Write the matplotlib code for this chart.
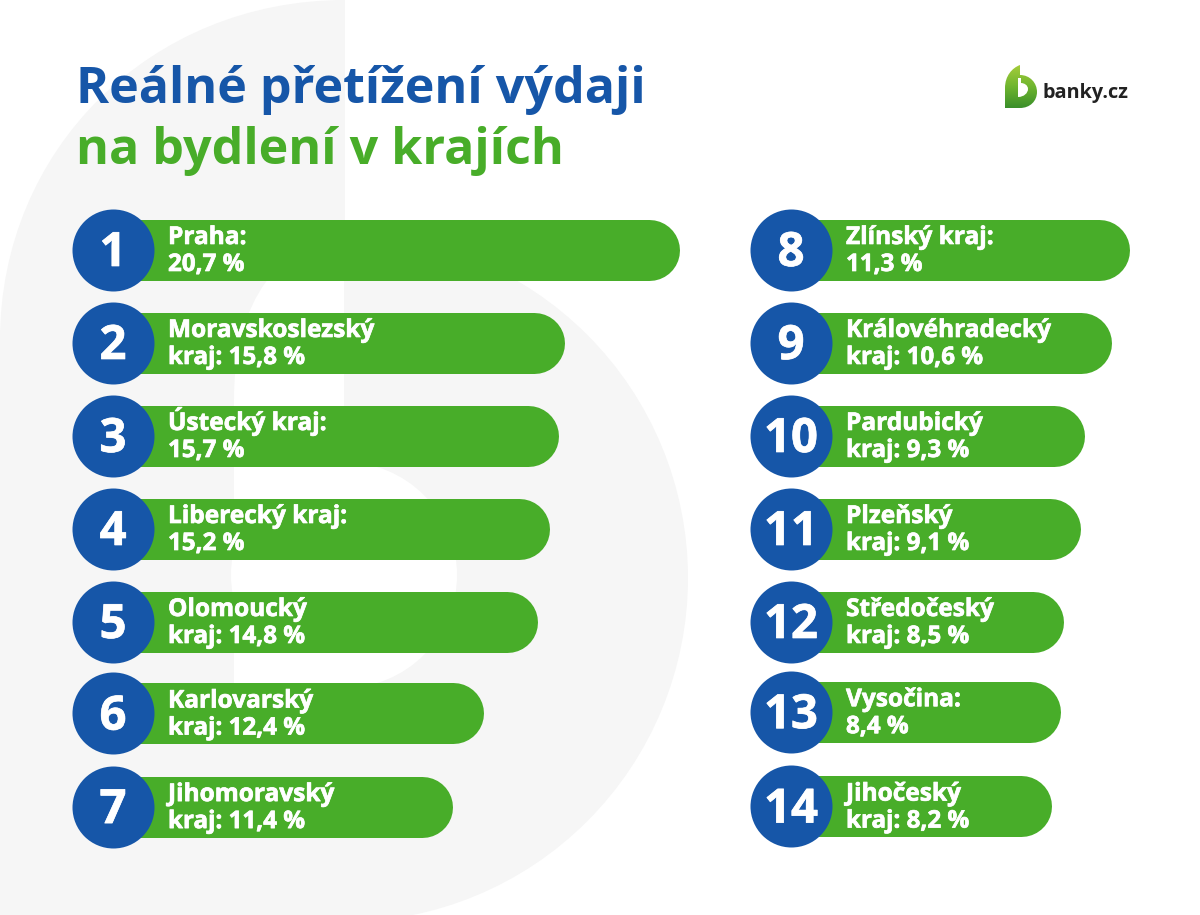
import numpy as np
import matplotlib
matplotlib.use('Agg')
import matplotlib.pyplot as plt
import matplotlib.patheffects as pe
from matplotlib.path import Path
from matplotlib.patches import PathPatch, Circle, Rectangle
from matplotlib.colors import LinearSegmentedColormap

# Data: labels are what the picture prints, bar lengths are read off the bars
# (the source graphic does not draw them strictly in proportion)
title_top = 'Reálné přetížení výdaji'
title_bottom = 'na bydlení v krajích'

left_ranks = [1, 2, 3, 4, 5, 6, 7]
left_names = ['Praha:', 'Moravskoslezský', 'Ústecký kraj:', 'Liberecký kraj:',
              'Olomoucký', 'Karlovarský', 'Jihomoravský']
left_prefix = ['', 'kraj: ', '', '', 'kraj: ', 'kraj: ', 'kraj: ']
left_values = [20.7, 15.8, 15.7, 15.2, 14.8, 12.4, 11.4]
left_bars = [20.71, 16.07, 15.79, 15.43, 14.97, 12.79, 11.52]

right_ranks = [8, 9, 10, 11, 12, 13, 14]
right_names = ['Zlínský kraj:', 'Královéhradecký', 'Pardubický', 'Plzeňský',
               'Středočeský', 'Vysočina:', 'Jihočeský']
right_prefix = ['', 'kraj: ', 'kraj: ', 'kraj: ', 'kraj: ', '', 'kraj: ']
right_values = [11.3, 10.6, 9.3, 9.1, 8.5, 8.4, 8.2]
right_bars = [11.31, 10.56, 9.52, 9.36, 8.65, 8.53, 8.20]

# Layout, pixels of the 1200x915 picture
W, H = 1200, 915
GREEN = '#48AD29'
BLUE = '#1656A8'
GRAY = '#F6F6F6'
BAR_H = 61
CIRCLE_D = 82

plt.rcParams['font.family'] = ['Open Sans', 'DejaVu Sans']
fig = plt.figure(figsize=(W / 100, H / 100), dpi=100, facecolor='white')


def full_axes(xlim, ylim):
    ax = fig.add_axes([0, 0, 1, 1], facecolor='none')
    ax.set_xlim(*xlim)
    ax.set_ylim(*ylim)
    ax.axis('off')
    return ax


# Background: big pale "b" and the logo, in picture pixels
bg = full_axes((0, W), (H, 0))
M, C, L, Z = Path.MOVETO, Path.CURVE4, Path.LINETO, Path.CLOSEPOLY
stem = Path([(0, H), (0, 340), (0, 150), (150, 0), (345, 0), (345, H), (0, H), (0, H)],
            [M, L, C, C, C, L, L, Z])
bg.add_patch(PathPatch(stem, fc=GRAY, ec='none'))
bg.add_patch(Circle((344, 578), 344, fc=GRAY, ec='none'))
slot = Path([(234, 578), (234, 400), (234, 320), (262, 255), (344, 225), (344, 578), (234, 578), (234, 578)],
            [M, L, C, C, C, L, L, Z])
bg.add_patch(PathPatch(slot, fc='white', ec='none'))
bg.add_patch(Circle((344, 575), 113, fc='white', ec='none'))
bg.add_patch(Rectangle((234, 575), 110, 113, fc='white', ec='none'))

# Logo with vertical gradient
logo_path = Path([(1005, 108), (1005, 88), (1005, 76), (1012, 68), (1020, 65), (1020, 75),
                  (1030, 75), (1037, 83), (1037, 92), (1037, 101), (1030, 108), (1020, 108),
                  (1005, 108), (1005, 108)],
                 [M, L, C, C, C, L, C, C, C, C, C, C, L, Z])
logo_patch = PathPatch(logo_path, fc='none', ec='none')
bg.add_patch(logo_patch)
cmap = LinearSegmentedColormap.from_list('logo', ['#A4CC3A', '#6FB52F', '#3A8F2A'])
img = bg.imshow(np.linspace(0, 1, 64).reshape(-1, 1), cmap=cmap, extent=(1005, 1037, 108, 65),
                aspect='auto', zorder=2)
img.set_clip_path(logo_patch)
bg.set_xlim(0, W)
bg.set_ylim(H, 0)
counter = Path([(1018, 78), (1018, 97), (1024, 97), (1028, 93), (1028, 89), (1028, 85), (1024, 83),
                (1021, 83), (1021, 78), (1018, 78)],
               [M, L, C, C, C, C, C, C, L, Z])
bg.add_patch(PathPatch(counter, fc='white', ec='none', zorder=3))
bg.text(1043, 98, 'banky.cz', fontsize=14.3, fontweight='bold', color='#222222', va='baseline', ha='left')

bg.text(76.5, 103, title_top, fontsize=36.2, fontweight='bold', color=BLUE, va='baseline', ha='left')
bg.text(76.5, 164, title_bottom, fontsize=36.2, fontweight='bold', color=GREEN, va='baseline', ha='left')

# reference lettering is a touch heavier than Open Sans Bold here
heavy = [pe.withStroke(linewidth=0.5, foreground='white')]


def draw_panel(x0, px_per_unit, rows, cx, ranks, names, prefix, values, bars):
    # value axis starts at the text edge x0, rows are 93 px apart starting at y=249
    ax = full_axes((-x0 / px_per_unit, (W - x0) / px_per_unit), ((H - 249.5) / 93, -249.5 / 93))
    bars = np.array(bars)
    cap = (BAR_H / 2) / px_per_unit
    circle_x = (cx - x0) / px_per_unit
    ax.hlines(rows, circle_x, bars - cap, colors=GREEN, linewidth=BAR_H * 0.72, capstyle='round', zorder=2)
    ax.scatter([circle_x] * len(rows), rows, s=(CIRCLE_D * 0.72) ** 2, color=BLUE, linewidths=0, zorder=3)
    for r, rank, name, pre, val in zip(rows, ranks, names, prefix, values):
        ax.text(circle_x, r + 16.5 / 93, str(rank), color='white', fontsize=34, fontweight='bold',
                ha='center', va='baseline', zorder=4, path_effects=heavy)
        second = f'{pre}{val:.1f} %'.replace('.', ',')
        ax.text(0, r - 5.5 / 93, name, color='white', fontsize=17.6, fontweight='bold',
                ha='left', va='baseline', zorder=4, path_effects=heavy)
        ax.text(0, r + 21.5 / 93, second, color='white', fontsize=17.4, fontweight='bold',
                ha='left', va='baseline', zorder=4, path_effects=heavy)


draw_panel(168, 24.7, [0, 1, 2, 3, 4, 4.985, 5.99], 113,
           left_ranks, left_names, left_prefix, left_values, left_bars)
draw_panel(846, 25.1, [0, 1, 2, 3, 4, 4.97, 5.985], 791,
           right_ranks, right_names, right_prefix, right_values, right_bars)

fig.savefig('out.png', dpi=100)
